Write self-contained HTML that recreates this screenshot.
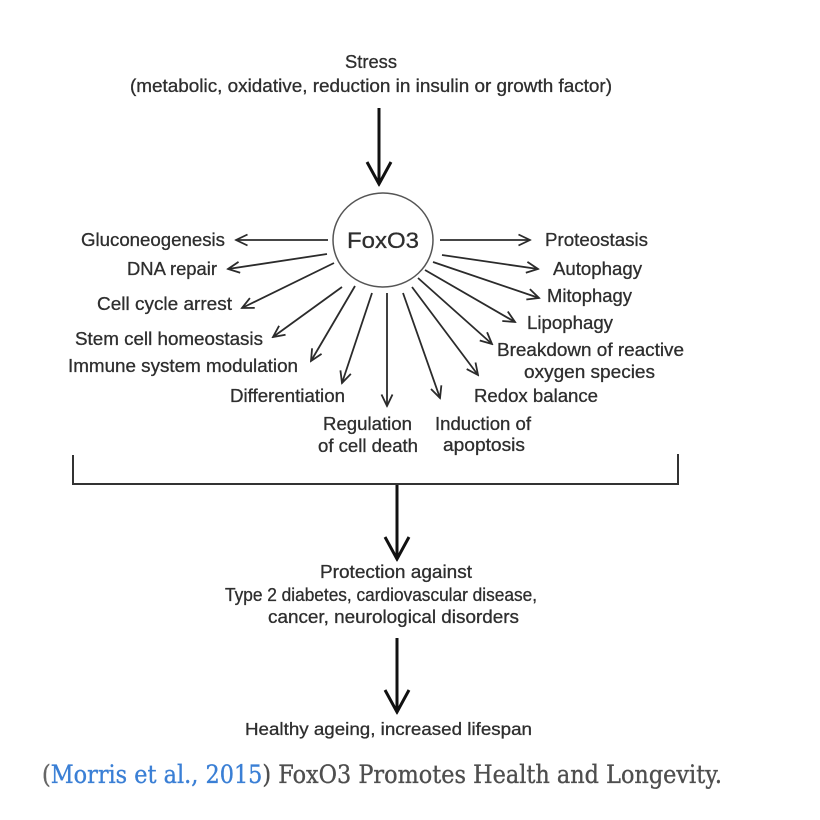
<!DOCTYPE html>
<html>
<head>
<meta charset="utf-8">
<style>
  html, body { margin: 0; padding: 0; background: #ffffff; }
  body { width: 820px; height: 820px; overflow: hidden; position: relative; }
  svg { position: absolute; left: 0; top: 0; filter: blur(0.35px); }
  .t { font-family: "Liberation Sans", Arial, sans-serif; fill: #2e2e2e; stroke: #2e2e2e; stroke-width: 0.3; }
  .cap { font-family: "DejaVu Serif", "Liberation Serif", serif; stroke-width: 0.35; }
</style>
</head>
<body>
<svg width="820" height="820" viewBox="0 0 820 820" xmlns="http://www.w3.org/2000/svg">
  <defs>
    <marker id="sm" viewBox="0 0 14 14" markerWidth="14" markerHeight="14" refX="12.5" refY="7" orient="auto" markerUnits="userSpaceOnUse">
      <path d="M1,1.5 L12.5,7 L1,12.5" fill="none" stroke="#2b2b2b" stroke-width="1.8"/>
    </marker>
    <marker id="big" viewBox="0 0 26 28" markerWidth="26" markerHeight="28" refX="23.5" refY="14" orient="auto" markerUnits="userSpaceOnUse">
      <path d="M1.5,2 L23.5,14 L1.5,26" fill="none" stroke="#111" stroke-width="3"/>
    </marker>
  </defs>

  <!-- Top text -->
  <text class="t" x="345" y="68" font-size="18.5" textLength="52" lengthAdjust="spacingAndGlyphs">Stress</text>
  <text class="t" x="130" y="92" font-size="18.5" textLength="482" lengthAdjust="spacingAndGlyphs">(metabolic, oxidative, reduction in insulin or growth factor)</text>

  <!-- Stress arrow -->
  <line x1="379" y1="108" x2="379" y2="184" stroke="#111" stroke-width="3" marker-end="url(#big)"/>

  <!-- FoxO3 circle -->
  <ellipse cx="383" cy="240" rx="50" ry="47" fill="none" stroke="#555" stroke-width="1.5"/>
  <text class="t" x="347" y="248" font-size="22" textLength="72" lengthAdjust="spacingAndGlyphs">FoxO3</text>

  <!-- Radiating arrows -->
  <g stroke="#2b2b2b" stroke-width="1.8" fill="none">
    <line x1="328" y1="240" x2="236" y2="240" marker-end="url(#sm)"/>
    <line x1="327" y1="254" x2="228" y2="269" marker-end="url(#sm)"/>
    <line x1="334" y1="263" x2="242" y2="308" marker-end="url(#sm)"/>
    <line x1="342" y1="287" x2="273" y2="337" marker-end="url(#sm)"/>
    <line x1="355" y1="286" x2="311" y2="361" marker-end="url(#sm)"/>
    <line x1="372" y1="293" x2="342" y2="383" marker-end="url(#sm)"/>
    <line x1="387" y1="293" x2="387" y2="406" marker-end="url(#sm)"/>
    <line x1="403" y1="293" x2="440" y2="398" marker-end="url(#sm)"/>
    <line x1="412" y1="287" x2="478" y2="375" marker-end="url(#sm)"/>
    <line x1="418" y1="278" x2="492" y2="344" marker-end="url(#sm)"/>
    <line x1="425" y1="270" x2="515" y2="322" marker-end="url(#sm)"/>
    <line x1="433" y1="262" x2="539" y2="298" marker-end="url(#sm)"/>
    <line x1="442" y1="255" x2="538" y2="269" marker-end="url(#sm)"/>
    <line x1="440" y1="240" x2="530" y2="240" marker-end="url(#sm)"/>
  </g>

  <!-- Left labels -->
  <text class="t" x="81" y="246" font-size="18.5" textLength="144" lengthAdjust="spacingAndGlyphs">Gluconeogenesis</text>
  <text class="t" x="127" y="275" font-size="18.5" textLength="90" lengthAdjust="spacingAndGlyphs">DNA repair</text>
  <text class="t" x="97" y="310" font-size="18.5" textLength="135" lengthAdjust="spacingAndGlyphs">Cell cycle arrest</text>
  <text class="t" x="75" y="345" font-size="18.5" textLength="188" lengthAdjust="spacingAndGlyphs">Stem cell homeostasis</text>
  <text class="t" x="68" y="372" font-size="18.5" textLength="230" lengthAdjust="spacingAndGlyphs">Immune system modulation</text>
  <text class="t" x="230" y="402" font-size="18.5" textLength="115" lengthAdjust="spacingAndGlyphs">Differentiation</text>
  <text class="t" x="323" y="430" font-size="18.5" textLength="89" lengthAdjust="spacingAndGlyphs">Regulation</text>
  <text class="t" x="318" y="452" font-size="18.5" textLength="100" lengthAdjust="spacingAndGlyphs">of cell death</text>

  <!-- Right labels -->
  <text class="t" x="435" y="430" font-size="18.5" textLength="96" lengthAdjust="spacingAndGlyphs">Induction of</text>
  <text class="t" x="443" y="451" font-size="18.5" textLength="82" lengthAdjust="spacingAndGlyphs">apoptosis</text>
  <text class="t" x="545" y="246" font-size="18.5" textLength="103" lengthAdjust="spacingAndGlyphs">Proteostasis</text>
  <text class="t" x="553" y="275" font-size="18.5" textLength="89" lengthAdjust="spacingAndGlyphs">Autophagy</text>
  <text class="t" x="547" y="302" font-size="18.5" textLength="85" lengthAdjust="spacingAndGlyphs">Mitophagy</text>
  <text class="t" x="527" y="329" font-size="18.5" textLength="86" lengthAdjust="spacingAndGlyphs">Lipophagy</text>
  <text class="t" x="497" y="356" font-size="18.5" textLength="187" lengthAdjust="spacingAndGlyphs">Breakdown of reactive</text>
  <text class="t" x="524" y="378" font-size="18.5" textLength="131" lengthAdjust="spacingAndGlyphs">oxygen species</text>
  <text class="t" x="474" y="402" font-size="18.5" textLength="124" lengthAdjust="spacingAndGlyphs">Redox balance</text>

  <!-- Bracket -->
  <polyline points="73,455 73,484 678,484 678,454" fill="none" stroke="#333" stroke-width="2"/>

  <!-- Middle arrow -->
  <line x1="397" y1="485" x2="397" y2="559" stroke="#111" stroke-width="3" marker-end="url(#big)"/>

  <!-- Protection text -->
  <text class="t" x="320" y="578" font-size="18" textLength="152" lengthAdjust="spacingAndGlyphs">Protection against</text>
  <text class="t" x="225" y="601" font-size="18" textLength="312" lengthAdjust="spacingAndGlyphs">Type 2 diabetes, cardiovascular disease,</text>
  <text class="t" x="268" y="623" font-size="18" textLength="251" lengthAdjust="spacingAndGlyphs">cancer, neurological disorders</text>

  <!-- Bottom arrow -->
  <line x1="397" y1="638" x2="397" y2="712" stroke="#111" stroke-width="3" marker-end="url(#big)"/>

  <text class="t" x="245" y="735" font-size="17.5" textLength="287" lengthAdjust="spacingAndGlyphs">Healthy ageing, increased lifespan</text>

  <!-- Caption -->
  <text class="cap" x="42" y="783" font-size="25" textLength="680" lengthAdjust="spacingAndGlyphs"><tspan fill="#666" stroke="#666">(</tspan><tspan fill="#3a7fd5" stroke="#3a7fd5">Morris et al., 2015</tspan><tspan fill="#4e4e4e" stroke="#4e4e4e">) FoxO3 Promotes Health and Longevity.</tspan></text>
</svg>
</body>
</html>
